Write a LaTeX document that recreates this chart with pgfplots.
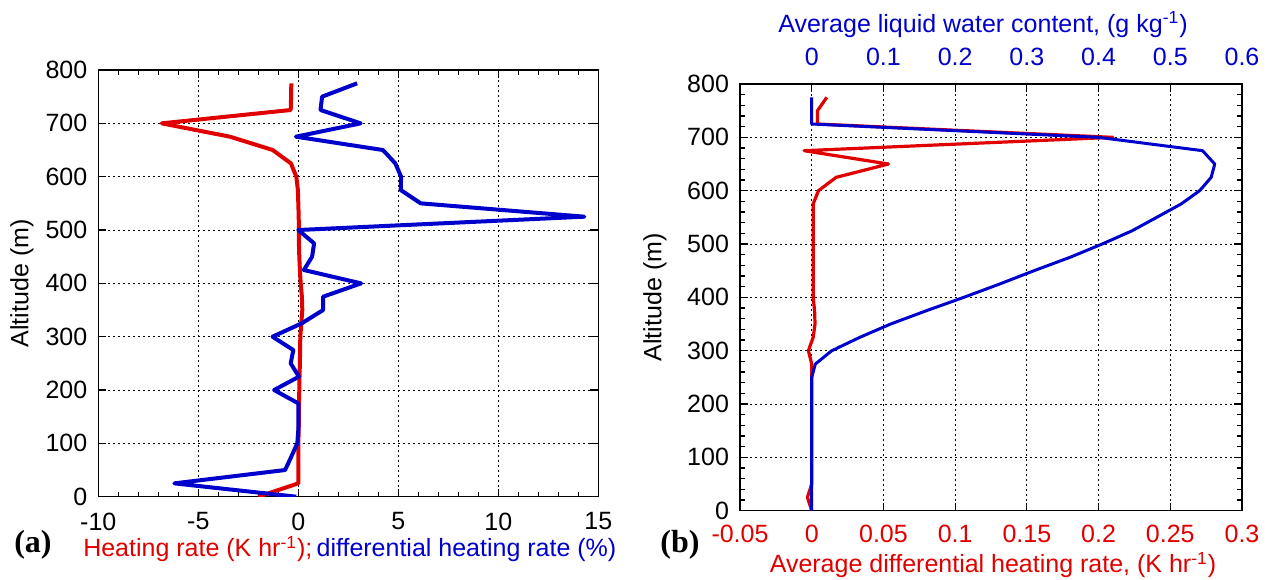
\documentclass[border=0pt]{standalone}
\usepackage{fontspec}
\setmainfont{Liberation Sans}
\newfontfamily\seriffont{Liberation Serif}
\usepackage{pgfplots}
\pgfplotsset{compat=1.18}
\definecolor{myred}{RGB}{225,0,0}
\definecolor{myblue}{RGB}{0,0,205}
\pgfplotsset{
  base/.style={
    scale only axis,
    font=\fontsize{12.5}{15}\selectfont,
    /pgf/number format/assume math mode=true,
    tick align=inside,
    major tick length=4pt,
    minor tick length=2.5pt,
    major grid style={black, line width=0.5pt, dash pattern=on 1pt off 1.5pt},
    axis line style={line width=0.7pt},
    every tick/.style={black, line width=0.6pt},
    ymin=0, ymax=800,
    ytick={0,100,...,800},
    yticklabel style={xshift=-2pt},
    scaled ticks=false,
  }
}
\begin{document}
\begin{tikzpicture}
\useasboundingbox (0,0) rectangle (634pt,289.5pt);
% ---------------- panel (a)
\begin{axis}[base,
  at={(49.15pt,41.15pt)}, anchor=south west,
  width=250pt, height=213.35pt,
  xmin=-10, xmax=15,
  xtick={-10,-5,0,5,10,15},
  xticklabel style={yshift=-4.5pt},
  minor x tick num=4,
  grid=major,
  ylabel={Altitude (m)},
  ylabel style={at={(axis description cs:-0.1526,0.5)}, anchor=center},
  xlabel={{\color{myred}Heating rate (K hr\textsuperscript{-1});}\,{\color{myblue}differential heating rate (\%)}},
  xlabel style={at={(axis description cs:0.503,-0.1226)}, anchor=center},
]
\addplot[myred, line width=2pt, line join=round] coordinates {
(-2.0,0) (0.0,25) (0.0,50) (0.0,75) (0.0,100) (0.02,125) (0.03,150) (0.03,175)
(0.05,200) (0.06,225) (0.08,250) (0.09,275) (0.1,300) (0.15,325) (0.2,350)
(0.18,375) (0.12,400) (0.08,425) (0.05,450) (0.03,475) (0.03,500) (0.02,525)
(0.0,550) (-0.02,575) (-0.1,600) (-0.37,625) (-1.28,650) (-3.42,675)
(-6.83,700) (-0.38,725) (-0.36,750) (-0.35,775)
};
\addplot[myblue, line width=2pt, line join=round] coordinates {
(-0.1,0) (-6.2,25) (-0.66,50) (-0.35,75) (-0.05,100) (0,125) (0,150) (0,175)
(-1.21,200) (0.03,225) (-0.38,250) (-0.25,275) (-1.29,300) (0.17,325)
(1.24,350) (1.24,375) (3.14,400) (0.28,425) (0.69,450) (0.79,475) (0,500)
(14.3,525) (6.12,550) (5.12,575) (5.14,600) (4.85,625) (4.23,650)
(-0.12,675) (3.12,700) (1.11,725) (1.19,750) (2.94,775)
};
\end{axis}
% ---------------- panel (b), bottom axis
\begin{axis}[base,
  at={(370pt,34.15pt)}, anchor=south west,
  width=251pt, height=213.35pt,
  xmin=-0.05, xmax=0.3,
  xtick={-0.05,0,0.05,0.1,0.15,0.2,0.25,0.3},
  xticklabels={-0.05,0,0.05,0.1,0.15,0.2,0.25,0.3},
  xtick pos=bottom,
  xticklabel style={myred, yshift=-3.8pt},
  minor y tick num=4,
  grid=major,
  ylabel={Altitude (m)},
  ylabel style={at={(axis description cs:-0.1693,0.5)}, anchor=center},
  xlabel={\color{myred}Average differential heating rate, (K hr\textsuperscript{-1})},
  xlabel style={at={(axis description cs:0.504,-0.1273)}, anchor=center},
]
\addplot[myred, line width=1.6pt, line join=round] coordinates {
(0,0) (-0.003,25) (0,50) (0,100) (0,150) (0,200) (0,250) (0,275)
(-0.0023,300) (0.001,325) (0.0023,350) (0.002,375) (0.001,400) (0.001,450)
(0.001,500) (0.001,550) (0.001,575) (0.0047,600) (0.017,625) (0.0535,650)
(-0.0053,675) (0.21,700) (0.004,725) (0.004,750) (0.0105,775)
};
\end{axis}
% ---------------- panel (b), top axis
\begin{axis}[base,
  at={(370pt,34.15pt)}, anchor=south west,
  width=251pt, height=213.35pt,
  xmin=-0.1, xmax=0.6,
  axis x line*=top,
  axis y line=none,
  xtick={0,0.1,0.2,0.3,0.4,0.5,0.6},
  xticklabels={0,0.1,0.2,0.3,0.4,0.5,0.6},
  xticklabel style={myblue, yshift=5.5pt},
  xlabel={\color{myblue}Average liquid water content, (g kg\textsuperscript{-1})},
  xlabel style={at={(axis description cs:0.484,1.14)}, anchor=center},
]
\addplot[myblue, line width=1.5pt, line join=round] coordinates {
(0,0) (0,50) (0,100) (0,150) (0,200) (0,250) (0.005,275) (0.028,300)
(0.067,325) (0.11,350) (0.16,375) (0.212,400) (0.262,425) (0.31,450)
(0.36,475) (0.405,500) (0.447,525) (0.481,550) (0.515,575) (0.541,600)
(0.557,625) (0.562,650) (0.545,675) (0.40,700) (0,725) (0,750) (0,775)
};
\end{axis}
\node[font=\seriffont\bfseries\fontsize{16}{18}\selectfont] at (16.5pt,17pt) {(a)};
\node[font=\seriffont\bfseries\fontsize{16}{18}\selectfont] at (340pt,17pt) {(b)};
\end{tikzpicture}
\end{document}
